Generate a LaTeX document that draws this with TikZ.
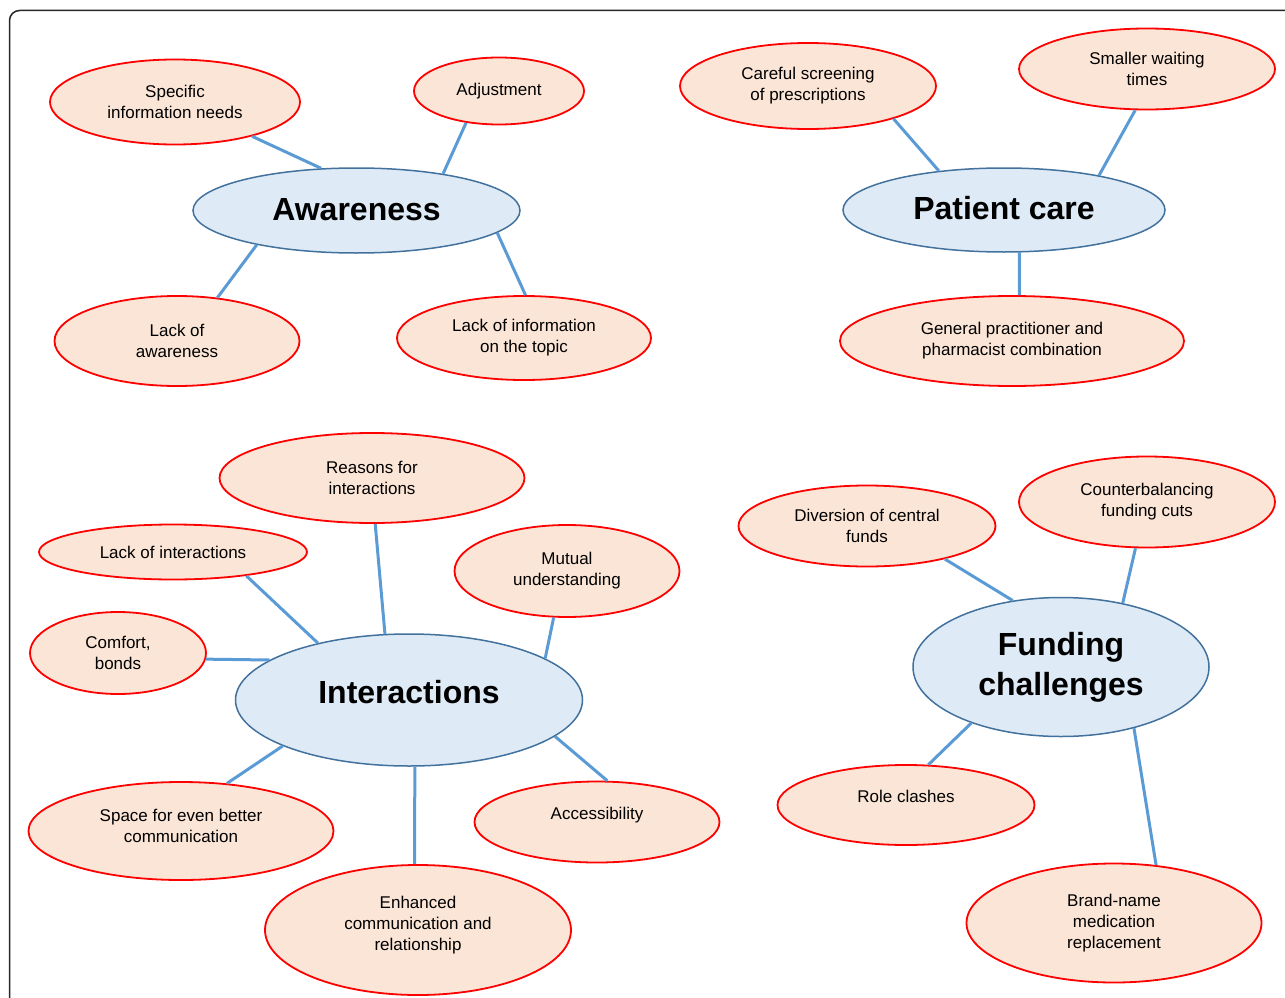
\documentclass[tikz,border=0pt]{standalone}
\usepackage{fontspec}
\setmainfont{Liberation Sans}
\usetikzlibrary{shapes.geometric}
\definecolor{leaffill}{HTML}{FBE5D6}
\definecolor{leafdraw}{HTML}{FF0000}
\definecolor{mainfill}{HTML}{DEEBF7}
\definecolor{maindraw}{HTML}{41719C}
\definecolor{linkcol}{HTML}{5B9BD5}
\begin{document}
\begin{tikzpicture}[x=1pt,y=-1pt,
 leaf/.style={ellipse, draw=leafdraw, fill=leaffill, line width=1.8pt, inner sep=0pt, align=center, font=\fontsize{17}{21}\selectfont},
 hub/.style={ellipse, draw=maindraw, fill=mainfill, line width=1.5pt, inner sep=0pt, align=center, font=\fontsize{32}{40}\selectfont\bfseries},
 link/.style={draw=linkcol, line width=3pt},
 frameline/.style={draw=black!85, line width=1.5pt, rounded corners=10pt},
 sz/.style 2 args={minimum width=#1pt, minimum height=#2pt}]
\useasboundingbox (0,0) rectangle (1285,998);
\clip (0,0) rectangle (1285,998);
\draw[frameline] (9.5,1010) -- (9.5,10.5) -- (1300,10.5);

% Awareness
\node[hub, sz={327}{85}, text height=25pt, text depth=6pt] (aw) at (356.5,210.5) {Awareness};
\node[leaf, sz={250}{85}] (spec) at (175,102) {Specific\\information needs};
\node[leaf, sz={170}{67}] (adj) at (499,91) {Adjustment};
\node[leaf, sz={245}{90}] (lackaw) at (177,341) {Lack of\\awareness};
\node[leaf, sz={254}{84}] (lackinfo) at (524,338) {Lack of information\\on the topic};

% Patient care
\node[hub, sz={322}{84}, text height=25pt, text depth=6pt] (pc) at (1004,210) {Patient care};
\node[leaf, sz={256}{86}] (care) at (808,86) {Careful screening\\of prescriptions};
\node[leaf, sz={256}{81}] (wait) at (1147,69) {Smaller waiting\\times};
\node[leaf, sz={344}{90}] (gp) at (1012,341) {General practitioner and\\pharmacist combination};

% Interactions
\node[hub, sz={347}{132}, text height=25pt, text depth=18pt] (inter) at (409,700) {Interactions};
\node[leaf, sz={305}{90}] (reas) at (372,478) {Reasons for\\interactions};
\node[leaf, sz={268}{55}] (lackint) at (173,552) {Lack of interactions};
\node[leaf, sz={225}{92}] (mut) at (567,571) {Mutual\\understanding};
\node[leaf, sz={176}{82}] (comf) at (118,653) {Comfort,\\bonds};
\node[leaf, sz={305}{98}, text depth=10pt] (space) at (181,831) {Space for even better\\communication};
\node[leaf, sz={306}{130}, text depth=14pt] (enh) at (418,930) {Enhanced\\communication and\\relationship};
\node[leaf, sz={245}{81}, text height=12pt, text depth=18pt] (acc) at (597,822) {Accessibility};

% Funding
\node[hub, sz={296}{139}] (fund) at (1061,667) {Funding\\challenges};
\node[leaf, sz={257}{81}] (div) at (867,526) {Diversion of central\\funds};
\node[leaf, sz={256}{91}] (cut) at (1147,502) {Counterbalancing\\funding cuts};
\node[leaf, sz={257}{80}, text height=12pt, text depth=18pt] (role) at (906,805) {Role clashes};
\node[leaf, sz={295}{119}] (brand) at (1114,923) {Brand-name\\medication\\replacement};

% connectors
\draw[link] (spec.-24.4) -- (aw.130);
\draw[link] (adj.-136.6) -- (aw.23);
\draw[link] (aw.-161.1) -- (lackaw.47.7);
\draw[link] (aw.-9.6) -- (lackinfo.88.6);

\draw[link] (care.-21.9) -- (pc.149);
\draw[link] (wait.-106.3) -- (pc.20.6);
\draw[link] (pc.-70.8) -- (gp.81.2);

\draw[link] (reas.-86.2) -- (inter.110.3);
\draw[link] (lackint.-18.4) -- (inter.148.2);
\draw[link] (mut.-106.9) -- (inter.17.3);
\draw[link] (comf.-4.5) -- (inter.164.5);
\draw[link] (inter.-160.4) -- (space.46.8);
\draw[link] (inter.-85.7) -- (enh.93.5);
\draw[link] (inter.-14.7) -- (acc.76.3);

\draw[link] (div.-23.1) -- (fund.126.5);
\draw[link] (cut.-104.3) -- (fund.46.4);
\draw[link] (fund.-148.8) -- (role.61.2);
\draw[link] (fund.-40.4) -- (brand.54.6);
\end{tikzpicture}
\end{document}
